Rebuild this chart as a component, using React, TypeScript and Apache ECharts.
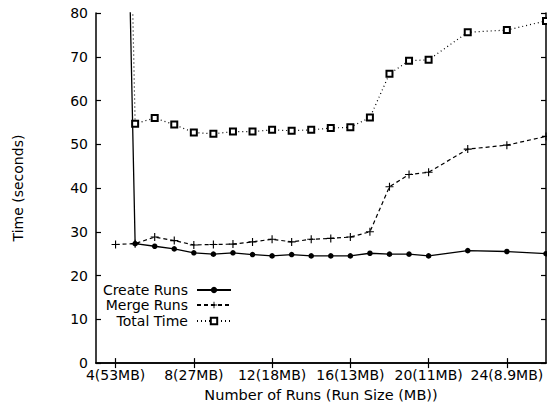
import React, { useEffect, useRef } from "react";
import * as echarts from "echarts";

const xValues = [4, 5, 6, 7, 8, 9, 10, 11, 12, 13, 14, 15, 16, 17, 18, 19, 20, 22, 24, 26];
const createRuns = [240, 27.3, 26.7, 26.1, 25.2, 24.9, 25.2, 24.8, 24.5, 24.8, 24.5, 24.5, 24.5, 25.1, 24.9, 24.9, 24.5, 25.7, 25.5, 25.0];
const mergeRuns = [27.1, 27.3, 28.8, 28.0, 27.0, 27.1, 27.2, 27.7, 28.3, 27.7, 28.3, 28.5, 28.8, 30.0, 40.3, 43.1, 43.6, 48.9, 49.8, 51.8];
const totalTime = [267, 54.7, 56.0, 54.5, 52.7, 52.4, 52.9, 52.9, 53.3, 53.1, 53.3, 53.7, 53.9, 56.1, 66.1, 69.1, 69.3, 75.6, 76.1, 78.2];
const xTickValues = [4, 8, 12, 16, 20, 24];
const xTickLabels = ["4(53MB)", "8(27MB)", "12(18MB)", "16(13MB)", "20(11MB)", "24(8.9MB)"];
const seriesNames = ["Create Runs", "Merge Runs", "Total Time"];

const FONT = "DejaVu Sans";
const PLUS = "path://M-0.14,-1 L0.14,-1 L0.14,-0.14 L1,-0.14 L1,0.14 L0.14,0.14 L0.14,1 L-0.14,1 L-0.14,0.14 L-1,0.14 L-1,-0.14 L-0.14,-0.14 Z";

export default function App() {
  const ref = useRef<HTMLDivElement>(null);
  useEffect(() => {
    if (!ref.current) return;
    const chart = echarts.init(ref.current, undefined, { renderer: "svg" });
    const pair = (ys: number[]) => xValues.map((x, i) => [x, ys[i]]);
    const axisCommon = {
      axisLine: { show: true, lineStyle: { color: "#000", width: 1.5 } },
      splitLine: { show: false },
    };
    const legendRow = (name: string, top: number) => ({
      data: [name],
      right: 315,
      top,
      orient: "vertical",
      align: "right",
      padding: 0,
      itemWidth: 34,
      itemHeight: 8,
      itemGap: 0,
      selectedMode: false,
      textStyle: { fontFamily: FONT, fontSize: 14, color: "#000", padding: [0, 4, 0, 0] },
    });
    chart.setOption({
      animation: false,
      backgroundColor: "#fff",
      grid: { left: 96, right: 1, top: 13, bottom: 43, containLabel: false },
      legend: [
        legendRow(seriesNames[0], 283),
        legendRow(seriesNames[1], 298),
        legendRow(seriesNames[2], 314),
      ],
      xAxis: [
        {
          type: "value",
          min: 3,
          max: 26,
          position: "bottom",
          ...axisCommon,
          axisTick: { show: true, inside: true, length: 5, customValues: xTickValues, lineStyle: { color: "#000", width: 1.2 } },
          axisLabel: {
            customValues: xTickValues,
            formatter: (v: number) => xTickLabels[xTickValues.indexOf(v)] ?? "",
            fontFamily: FONT,
            fontSize: 14,
            color: "#000",
            margin: 5,
          },
          name: "Number of Runs (Run Size (MB))",
          nameLocation: "middle",
          nameGap: 21,
          nameTextStyle: { fontFamily: FONT, fontSize: 14.5, color: "#000", verticalAlign: "top" },
        },
        {
          type: "value",
          min: 3,
          max: 26,
          position: "top",
          ...axisCommon,
          axisTick: { show: true, inside: true, length: 5, customValues: xTickValues, lineStyle: { color: "#000", width: 1.2 } },
          axisLabel: { show: false },
        },
      ],
      yAxis: [
        {
          type: "value",
          min: 0,
          max: 80,
          interval: 10,
          position: "left",
          ...axisCommon,
          axisTick: { show: true, inside: true, length: 5, lineStyle: { color: "#000", width: 1.2 } },
          axisLabel: { fontFamily: FONT, fontSize: 14, color: "#000", margin: 8 },
          name: "Time (seconds)",
          nameLocation: "middle",
          nameGap: 71,
          nameTextStyle: { fontFamily: FONT, fontSize: 14, color: "#000" },
        },
        {
          type: "value",
          min: 0,
          max: 80,
          interval: 10,
          position: "right",
          ...axisCommon,
          axisTick: { show: true, inside: true, length: 5, lineStyle: { color: "#000", width: 1.2 } },
          axisLabel: { show: false },
        },
      ],
      series: [
        {
          name: seriesNames[0],
          type: "line",
          data: pair(createRuns),
          clip: true,
          symbol: "circle",
          symbolSize: 5.5,
          itemStyle: { color: "#000" },
          lineStyle: { color: "#000", width: 1.3, type: "solid" },
        },
        {
          name: seriesNames[1],
          type: "line",
          data: pair(mergeRuns),
          clip: true,
          symbol: PLUS,
          symbolSize: 8,
          itemStyle: { color: "#000" },
          lineStyle: { color: "#000", width: 1.2, type: [4, 3] },
        },
        {
          name: seriesNames[2],
          type: "line",
          data: pair(totalTime),
          clip: true,
          symbol: "emptyRect",
          symbolSize: 6,
          itemStyle: { color: "#000", borderColor: "#000", borderWidth: 1.3 },
          lineStyle: { color: "#000", width: 1.2, type: [1, 3] },
        },
      ],
    });
    return () => chart.dispose();
  }, []);
  return <div ref={ref} style={{ position: "fixed", left: 0, top: 0, width: 547, height: 407 }} />;
}
